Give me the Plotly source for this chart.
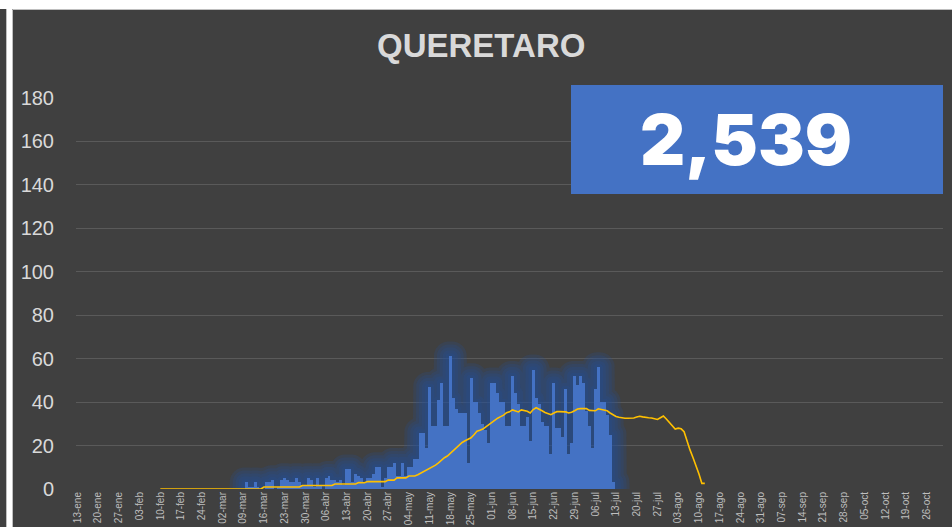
import numpy as np
import pandas as pd
import plotly.graph_objects as go

# ---------------------------------------------------------------- data
TITULO = "QUERETARO"
TOTAL = 2539

MESES = ["ene", "feb", "mar", "abr", "may", "jun", "jul", "ago", "sep", "oct", "nov", "dic"]

# calendar of the horizontal axis (one category per day)
fechas = pd.date_range("2020-01-13", "2020-10-31", freq="D")

# daily new cases, starting 2020-03-09
inicio_casos = "2020-03-09"
casos = [
    0, 3, 1, 1, 3, 1, 0,          # 09-mar
    0, 3, 3, 4, 0, 1, 4,          # 16-mar
    5, 4, 3, 3, 5, 3, 2,          # 23-mar
    2, 5, 4, 1, 5, 2, 0,          # 30-mar
    5, 6, 4, 4, 3, 4, 2,          # 06-abr
    9, 9, 3, 7, 6, 5, 3,          # 13-abr
    5, 5, 7, 10, 10, 1, 5,        # 20-abr
    10, 10, 12, 6, 6, 12, 6,      # 27-abr
    10, 10, 14, 14, 26, 26, 19,   # 04-may
    47, 29, 29, 41, 49, 29, 29,   # 11-may
    61, 42, 37, 35, 35, 35, 12,   # 18-may
    51, 40, 40, 35, 30, 27, 21,   # 25-may
    49, 49, 44, 40, 40, 29, 29,   # 01-jun
    52, 44, 39, 29, 29, 33, 22,   # 08-jun
    55, 42, 39, 31, 29, 29, 16,   # 15-jun
    49, 28, 28, 24, 46, 16, 21,   # 22-jun
    52, 48, 52, 49, 36, 29, 19,   # 29-jun
    46, 56, 40, 40, 34, 25, 3,    # 06-jul
]

# moving average of daily cases, starting 2020-02-10
inicio_promedio = "2020-02-10"
promedio = [
    0, 0, 0, 0, 0, 0, 0,                                  # 10-feb
    0, 0, 0, 0, 0, 0, 0,                                  # 17-feb
    0, 0, 0, 0, 0, 0, 0,                                  # 24-feb
    0, 0, 0, 0, 0, 0, 0,                                  # 02-mar
    0, 0, 0, 0, 0, 0, 0,                                  # 09-mar
    0.9, 0.9, 0.9, 0.9, 0.9, 0.9, 0.9,                    # 16-mar
    0.9, 0.9, 0.9, 0.9, 0.9, 0.9, 1.6,                    # 23-mar
    1.6, 1.6, 1.6, 1.6, 1.6, 1.6, 1.6,                    # 30-mar
    1.6, 1.6, 1.6, 2.3, 2.3, 2.3, 2.3,                    # 06-abr
    2.3, 2.3, 2.3, 2.3, 3.0, 3.1, 2.9,                    # 13-abr
    3.4, 3.4, 3.4, 3.4, 3.4, 3.4, 3.4,                    # 20-abr
    4.1, 4.1, 4.1, 5.1, 5.1, 5.1, 5.1,                    # 27-abr
    6.0, 6.0, 6.0, 6.6, 7.3, 8.0, 8.6,                    # 04-may
    9.3, 10.1, 11.0, 12.0, 13.3, 14.4, 15.2,              # 11-may
    16.5, 17.6, 19.0, 20.4, 21.4, 22.2, 22.8,             # 18-may
    23.6, 25.0, 26.6, 27.0, 27.6, 28.6, 29.6,             # 25-may
    30.6, 31.8, 32.6, 33.3, 34.0, 35.1, 35.5,             # 01-jun
    36.4, 36.0, 35.5, 36.4, 36.2, 35.8, 35.0,             # 08-jun
    36.6, 37.4, 36.8, 36.0, 35.2, 34.6, 34.2,             # 15-jun
    35.0, 35.6, 35.6, 35.6, 35.5, 35.0, 35.3,             # 22-jun
    36.0, 36.8, 37.0, 37.0, 37.0, 36.2, 36.0,             # 29-jun
    36.0, 36.9, 36.6, 36.5, 36.0, 35.0, 34.0,             # 06-jul
    33.4, 33.0, 32.7, 32.6, 32.6, 32.6, 32.7,             # 13-jul
    33.1, 33.5, 33.2, 32.9, 32.8, 32.7, 32.5,             # 20-jul
    32.0, 32.8, 33.6, 32.2, 30.6, 29.0, 27.6,             # 27-jul
    28.0, 27.7, 26.4, 22.0, 18.0, 14.5, 11.0,             # 03-ago
    7.0, 2.6, 2.6,                                        # 10-ago
]

# weekly tick labels
ticks_fecha = fechas[::7]
ticks_texto = [f"{d.day:02d}-{MESES[d.month - 1]}" for d in ticks_fecha]

# ---------------------------------------------------------------- geometry
W, H = 952, 527
ML, MR, MT, MB = 76, 9, 98, 38
PW, PH = W - ML - MR, H - MT - MB
Y_MAX = 180
N_DIAS = len(fechas)
PX_DIA = PW / N_DIAS
PX_UNI = PH / Y_MAX

BG = "#404040"
AZUL = "#4472C4"
AMBAR = "#FFC000"
TEXTO = "#d9d9d9"
GRID = "#5a5a5a"


def dia(fecha):
    return (pd.Timestamp(fecha) - fechas[0]).days


def px_x(px):
    return (px - ML) / PW


def px_y(py):
    return (H - MB - py) / PH


x_casos = np.arange(len(casos)) + dia(inicio_casos)
x_prom = np.arange(len(promedio)) + dia(inicio_promedio)
v_casos = np.array(casos, dtype=float)

# ---------------------------------------------------------------- glow around the bars
def halo(radio_px):
    xs = np.arange(x_casos[0] - 8, x_casos[-1] + 8, 0.1)
    env = np.zeros_like(xs)
    for xc, v in zip(x_casos, v_casos):
        if v <= 0:
            continue
        dist = np.maximum(np.abs(xs - xc) - 0.5, 0) * PX_DIA
        ok = dist <= radio_px
        alto = v + np.sqrt(np.maximum(radio_px ** 2 - dist ** 2, 0)) / PX_UNI
        env = np.where(ok, np.maximum(env, alto), env)
    pts = [f"M{xs[0]:.2f},0"] + [f"L{a:.2f},{b:.3f}" for a, b in zip(xs, env)] + [f"L{xs[-1]:.2f},0 Z"]
    return " ".join(pts)


shapes = []
for r in (3, 6, 9, 12, 15):
    shapes.append(dict(type="path", xref="x", yref="y", path=halo(r),
                       fillcolor="rgba(34,78,155,0.2)", line=dict(width=0), layer="between"))

# page framing
shapes += [
    dict(type="rect", xref="paper", yref="paper", x0=px_x(0), x1=px_x(W), y0=px_y(0), y1=px_y(9),
         fillcolor="white", line=dict(width=0), layer="above"),
    dict(type="rect", xref="paper", yref="paper", x0=px_x(7), x1=px_x(12), y0=px_y(9), y1=px_y(H),
         fillcolor="white", line=dict(width=0), layer="above"),
    dict(type="line", xref="paper", yref="paper", x0=px_x(12.5), x1=px_x(W), y0=px_y(9.5), y1=px_y(9.5),
         line=dict(color="#bfbfbf", width=1), layer="above"),
    dict(type="line", xref="paper", yref="paper", x0=px_x(12.5), x1=px_x(12.5), y0=px_y(9.5), y1=px_y(H),
         line=dict(color="#bfbfbf", width=1), layer="above"),
    dict(type="line", xref="paper", yref="paper", x0=px_x(6.5), x1=px_x(6.5), y0=px_y(9), y1=px_y(H),
         line=dict(color="#bfbfbf", width=1), layer="above"),
    # total box
    dict(type="rect", xref="paper", yref="paper", x0=px_x(571), x1=px_x(943), y0=px_y(194), y1=px_y(85),
         fillcolor=AZUL, line=dict(width=0), layer="above"),
]

# ---------------------------------------------------------------- figure
fig = go.Figure()
fig.add_trace(go.Bar(x=x_casos, y=casos, marker=dict(color=AZUL, line=dict(width=0)),
                     width=1.0, hoverinfo="skip"))
fig.add_trace(go.Scatter(x=x_prom, y=promedio, mode="lines",
                         line=dict(color=AMBAR, width=1.6), hoverinfo="skip"))

fig.update_layout(
    width=W, height=H,
    margin=dict(l=ML, r=MR, t=MT, b=MB, pad=0, autoexpand=False),
    paper_bgcolor=BG, plot_bgcolor=BG,
    showlegend=False, bargap=0,
    shapes=shapes,
    font=dict(family="Liberation Sans, Arial, sans-serif", color=TEXTO),
    xaxis=dict(range=[-0.5, N_DIAS - 0.5], tickmode="array", automargin=False,
               tickvals=[dia(d) for d in ticks_fecha], ticktext=ticks_texto,
               tickangle=-90, tickfont=dict(size=10, color="#bfbfbf"),
               showgrid=False, zeroline=False, showline=False, ticks=""),
    yaxis=dict(range=[0, Y_MAX], tickmode="array", tickvals=list(range(0, Y_MAX + 1, 20)),
               automargin=False,
               tickfont=dict(size=20, color=TEXTO), ticklabelstandoff=21,
               showgrid=True, gridcolor=GRID, gridwidth=1, zeroline=False, showline=False, ticks=""),
    annotations=[
        dict(text=f"<b>{TITULO}</b>", xref="paper", yref="paper", x=px_x(481), y=px_y(46),
             xanchor="center", yanchor="middle", showarrow=False,
             font=dict(size=33, color=TEXTO, family="Liberation Sans, Arial, sans-serif")),
        dict(text=f"{TOTAL:,}", xref="paper", yref="paper", x=px_x(746), y=px_y(139),
             xanchor="center", yanchor="middle", showarrow=False,
             font=dict(size=70, color="white", family="Inter", weight=900)),
    ],
)

fig.write_html("out.html")
